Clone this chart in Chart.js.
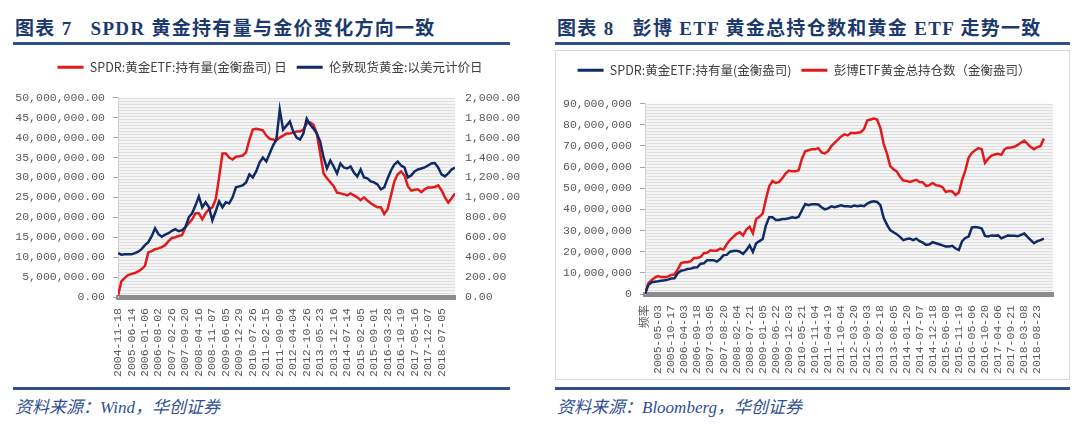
<!DOCTYPE html>
<html>
<head>
<meta charset="utf-8">
<script src="https://cdn.jsdelivr.net/npm/chart.js@4.4.1/dist/chart.umd.min.js"></script>
<style>
  body { margin: 0; width: 1080px; height: 424px; background: #fff; position: relative; overflow: hidden; }
  .title { position: absolute; top: 13px; font: bold 19px "Liberation Serif", "Noto Sans CJK SC"; color: #1d3a6e; letter-spacing: 1.3px; white-space: pre; }
  .rule { position: absolute; height: 3px; background: #2c4f8e; }
  .src { position: absolute; top: 393px; font: italic 17px "Liberation Serif", "Noto Sans CJK SC"; color: #2f4f94; white-space: pre; }
  .box { position: absolute; left: 555px; top: 50px; width: 515px; height: 330px; border: 1px solid #d9d9d9; box-sizing: border-box; }
  canvas { position: absolute; }
</style>
</head>
<body>

<div class="title" style="left:15px">图表 7   SPDR 黄金持有量与金价变化方向一致</div>
<div class="rule" style="left:13px; top:42px; width:497px"></div>
<canvas id="chart7" width="540" height="335" style="left:0; top:50px"></canvas>
<div class="rule" style="left:13px; top:387px; width:497px"></div>
<div class="src" style="left:15px">资料来源：Wind，华创证券</div>

<div class="title" style="left:557px">图表 8   彭博 ETF 黄金总持仓数和黄金 ETF 走势一致</div>
<div class="rule" style="left:555px; top:42px; width:515px"></div>
<div class="box"></div>
<canvas id="chart8" width="515" height="330" style="left:555px; top:50px"></canvas>
<div class="rule" style="left:555px; top:387px; width:515px"></div>
<div class="src" style="left:557px">资料来源：Bloomberg，华创证券</div>

<script>
// ---------- DATA ----------
// 4 readings per category-label interval
const perTick = 4;

// 图表7 x labels
const xTicks7 = ["2004-11-18", "2005-06-14", "2006-01-06", "2006-08-02", "2007-02-26", "2007-09-20",
  "2008-04-16", "2008-11-07", "2009-06-05", "2009-12-29", "2010-07-26", "2011-02-15", "2011-09-09",
  "2012-04-04", "2012-10-26", "2013-05-23", "2013-12-16", "2014-07-14", "2015-02-05", "2015-09-01",
  "2016-03-28", "2016-10-19", "2017-05-16", "2017-12-07", "2018-07-05"];

// SPDR holdings, million troy oz
const spdr7 = [0.3, 3.9, 4.8, 5.5, 5.8, 6.0, 6.4, 7.0, 7.8, 11.2,
  11.5, 12.0, 12.2, 12.5, 13.0, 14.0, 14.8, 15.0, 15.3, 15.5,
  17.5, 18.5, 19.5, 21.0, 21.0, 19.5, 21.0, 22.0, 22.5, 24.5,
  30.0, 36.0, 36.0, 35.0, 34.5, 35.2, 35.3, 35.5, 36.3, 39.5,
  42.0, 42.2, 42.0, 41.8, 40.5, 39.7, 39.5, 39.3, 40.0, 40.5,
  41.0, 41.0, 41.3, 41.5, 41.5, 42.0, 43.5, 43.8, 43.2, 41.0,
  36.0, 31.0, 29.8, 28.8, 27.8, 26.2, 26.0, 25.8, 25.5, 26.0,
  25.5, 25.0, 24.3, 25.0, 24.2, 23.5, 23.0, 22.5, 22.5, 20.8,
  22.0, 25.5, 29.0, 30.8, 31.5, 30.5, 27.8, 26.7, 26.9, 27.0,
  26.3, 27.0, 27.5, 27.5, 27.6, 28.0, 26.8, 25.0, 23.7, 24.8, 26.0];

// London spot gold, USD
const gold7 = [440, 425, 428, 430, 428, 440, 455, 480, 520, 550,
  610, 690, 630, 605, 625, 640, 665, 680, 660, 670,
  700, 800, 840, 920, 1010, 900, 950, 900, 770, 860,
  960, 900, 950, 940, 1000, 1100, 1110, 1120, 1150, 1230,
  1200, 1260, 1350, 1400, 1360, 1440, 1520, 1580, 1880, 1680,
  1720, 1760, 1660, 1600, 1580, 1640, 1790, 1730, 1690, 1640,
  1560, 1400, 1290, 1370, 1310, 1240, 1340, 1300, 1290, 1310,
  1250, 1210, 1280, 1200, 1190, 1160, 1150, 1130, 1080, 1100,
  1190, 1270, 1330, 1360, 1320, 1300, 1200, 1220, 1260, 1280,
  1290, 1300, 1320, 1340, 1345, 1300, 1230, 1210, 1240, 1280, 1300];

// 图表8 x labels
const xTicks8 = ["频率", "2005-05-03", "2005-10-17", "2006-04-03", "2006-09-18", "2007-03-05",
  "2007-08-20", "2008-02-04", "2008-07-21", "2009-01-05", "2009-06-22", "2009-12-03", "2010-05-21",
  "2010-11-04", "2011-04-19", "2011-10-04", "2012-03-20", "2012-09-03", "2013-02-18", "2013-08-05",
  "2014-01-20", "2014-07-07", "2014-12-18", "2015-06-08", "2015-11-19", "2016-05-06", "2016-10-20",
  "2017-04-06", "2017-09-21", "2018-03-08", "2018-08-23"];

// SPDR holdings, million troy oz
const spdr8 = [0, 4.2, 5.5, 5.8, 6.0, 6.3, 6.5, 6.8, 7.3, 7.4,
  9.8, 11.0, 11.3, 11.8, 12.0, 12.5, 12.6, 14.3, 14.5, 16.0,
  16.0, 16.0, 15.3, 16.5, 18.4, 18.5, 20.0, 20.3, 20.5, 20.0,
  19.0, 20.7, 23.0, 19.9, 24.0, 25.0, 26.0, 32.5, 36.3, 36.3,
  35.0, 35.0, 35.5, 35.5, 35.8, 36.3, 36.0, 36.5, 39.6, 42.5,
  42.0, 42.5, 42.5, 42.3, 41.0, 40.0, 40.5, 41.5, 41.0, 41.5,
  42.0, 41.5, 41.5, 41.3, 41.8, 41.5, 41.8, 41.5, 42.8, 43.5,
  43.8, 43.5, 42.0, 36.0, 32.8, 30.2, 29.2, 28.3, 27.0, 25.5,
  26.0, 26.2, 25.5, 26.2, 25.0, 24.3, 23.2, 23.5, 24.5, 24.0,
  23.5, 23.0, 22.5, 22.5, 22.8, 21.5, 20.8, 25.0, 26.5, 27.2,
  31.5, 31.7, 31.5, 31.0, 27.5, 27.2, 27.7, 27.5, 27.7, 26.3,
  27.0, 27.7, 27.6, 27.5, 27.3, 28.0, 28.6, 27.0, 25.5, 24.0,
  25.0, 25.5, 26.2];

// Bloomberg total gold ETF holdings, million troy oz
const bbg8 = [0, 5.0, 6.5, 7.8, 8.5, 8.0, 8.0, 8.2, 9.0, 9.2,
  11.5, 14.5, 15.0, 15.0, 15.5, 17.0, 17.0, 17.5, 19.3, 19.5,
  20.7, 20.5, 20.5, 21.5, 21.0, 23.5, 25.5, 27.0, 28.5, 29.2,
  27.7, 30.5, 31.8, 28.7, 35.5, 36.5, 38.0, 45.0, 51.0, 53.5,
  52.5, 53.0, 54.7, 57.0, 58.4, 58.0, 58.0, 58.5, 64.0, 67.5,
  68.0, 68.5, 68.5, 69.0, 67.0, 66.5, 67.5, 70.0, 71.5, 73.0,
  74.5, 75.5, 75.0, 76.2, 76.0, 76.3, 76.5, 78.0, 82.0, 82.5,
  83.0, 82.5, 78.5, 71.0, 66.5, 60.5, 59.0, 58.0, 55.5, 53.7,
  53.5, 53.0, 53.5, 54.0, 53.0, 52.8, 51.0, 51.5, 52.5, 51.4,
  51.2, 50.5, 48.3, 48.7, 48.5, 46.8, 48.0, 54.0, 58.5, 64.5,
  66.8, 68.0, 69.0, 68.5, 62.0, 64.0, 65.5, 66.0, 66.3, 65.8,
  68.5, 69.2, 69.3, 69.6, 70.5, 71.5, 72.5, 71.0, 69.5, 68.5,
  69.5, 70.0, 73.5];

const RED = "#e11b1b";
const BLUE = "#0f2a66";

// ---------- HELPERS ----------
function points(vals, unit) {
  return vals.map((v, i) => ({ x: i / perTick, y: v * unit }));
}

function num(v, digits) {
  return v.toLocaleString("en-US", { minimumFractionDigits: digits, maximumFractionDigits: digits });
}

const tickFont = { family: "'Liberation Mono', 'Noto Sans CJK SC'", size: 11.5 };
const tickColor = "#595959";

// striped plot background
const stripes = {
  id: "stripes",
  beforeDraw(chart) {
    const { ctx, chartArea: a } = chart;
    const p = document.createElement("canvas");
    p.width = 4; p.height = 3;
    const c = p.getContext("2d");
    c.fillStyle = "#f5f5f5"; c.fillRect(0, 0, 4, 3);
    c.fillStyle = "#dedede"; c.fillRect(0, 0, 4, 1);
    ctx.save();
    ctx.fillStyle = ctx.createPattern(p, "repeat");
    ctx.fillRect(a.left, a.top, a.right - a.left, a.bottom - a.top);
    ctx.restore();
  }
};

const legendOpts = {
  weight: 3000,
  labels: {
    boxWidth: 26, boxHeight: 3, padding: 10, color: "#404040",
    font: { family: "'Noto Sans CJK SC'", size: 12.5 },
    generateLabels: ch => Chart.defaults.plugins.legend.labels.generateLabels(ch)
      .map(l => Object.assign(l, { fillStyle: l.strokeStyle, lineWidth: 0 })),
    sort: (a, b) => a.datasetIndex - b.datasetIndex
  }
};

// empty subtitle used as a gap between legend and plot
function gap(px) {
  return { display: true, text: " ", font: { size: 1 }, padding: { top: px, bottom: 0 } };
}

function xAxis(labels, max, height) {
  return {
    type: "linear", min: 0, max: max,
    afterBuildTicks: s => { s.ticks = labels.map((t, i) => ({ value: i })); },
    afterFit: s => { s.height = height; },
    ticks: { autoSkip: false, maxRotation: 90, minRotation: 90, padding: 3,
      font: tickFont, color: tickColor, callback: (v, i) => labels[i] },
    grid: { display: false },
    border: { display: true, color: "#8c8c8c", width: 5 }
  };
}

function lineSet(label, data, color, axis, order) {
  return { label, data, borderColor: color, backgroundColor: color, yAxisID: axis, order,
    borderWidth: 2.5, pointRadius: 0, tension: 0, fill: false };
}

// ========== CHART 7 ==========
new Chart(document.getElementById("chart7"), {
  type: "line",
  data: {
    datasets: [
      lineSet("SPDR:黄金ETF:持有量(金衡盎司) 日", points(spdr7, 1e6), RED, "y", 1),
      lineSet("伦敦现货黄金:以美元计价日", points(gold7, 1), BLUE, "y1", 0)
    ]
  },
  options: {
    responsive: false, animation: false,
    layout: { padding: { top: 1, left: 0, right: 0, bottom: 0 } },
    plugins: { legend: legendOpts, subtitle: gap(13), tooltip: { enabled: false } },
    scales: {
      x: xAxis(xTicks7, 25, 88),
      y: {
        position: "left", min: 0, max: 50000000,
        afterFit: s => { s.width = 118; },
        ticks: { stepSize: 5000000, padding: 8, font: tickFont, color: tickColor, callback: v => num(v, 2) },
        grid: { drawOnChartArea: false, tickLength: 5, color: "#a6a6a6" },
        border: { display: true, color: "#d0d0d0" }
      },
      y1: {
        position: "right", min: 0, max: 2000,
        afterFit: s => { s.width = 85; },
        ticks: { stepSize: 200, padding: 10, font: tickFont, color: tickColor, callback: v => num(v, 2) },
        grid: { display: false, drawTicks: false },
        border: { display: false }
      }
    }
  },
  plugins: [stripes]
});

// ========== CHART 8 ==========
new Chart(document.getElementById("chart8"), {
  type: "line",
  data: {
    datasets: [
      lineSet("SPDR:黄金ETF:持有量(金衡盎司)", points(spdr8, 1e6), BLUE, "y", 0),
      lineSet("彭博ETF黄金总持仓数（金衡盎司）", points(bbg8, 1e6), RED, "y", 1)
    ]
  },
  options: {
    responsive: false, animation: false,
    layout: { padding: { top: 4, left: 0, right: 17, bottom: 0 } },
    plugins: { legend: legendOpts, subtitle: gap(16), tooltip: { enabled: false } },
    scales: {
      x: xAxis(xTicks8, 31.2, 86),
      y: {
        position: "left", min: 0, max: 90000000,
        afterFit: s => { s.width = 90; },
        ticks: { stepSize: 10000000, padding: 8, font: tickFont, color: tickColor, callback: v => num(v, 0) },
        grid: { drawOnChartArea: false, tickLength: 5, color: "#a6a6a6" },
        border: { display: true, color: "#d0d0d0" }
      }
    }
  },
  plugins: [stripes]
});
</script>
</body>
</html>
